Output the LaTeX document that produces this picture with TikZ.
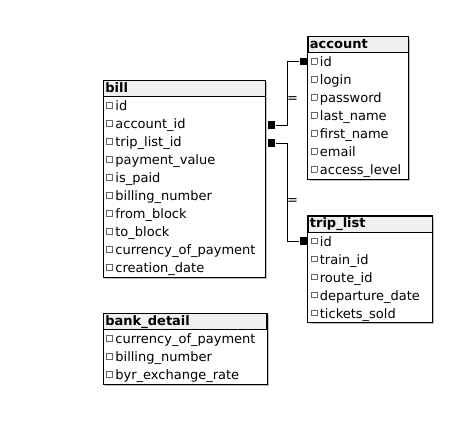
\documentclass[tikz,border=0pt]{standalone}
\usepackage{fontspec}
\setmainfont{DejaVu Sans}
\usetikzlibrary{positioning, fit, backgrounds, shadows}
\newcommand{\chk}{\hspace{1pt}\raisebox{3pt}{\color{gray!80!black}\setlength{\fboxsep}{0pt}\setlength{\fboxrule}{0.6pt}\fbox{\rule{0pt}{5.3pt}\rule{5.3pt}{0pt}}}\hspace{2.5pt}}

\begin{document}
\begin{tikzpicture}[x=1pt, y=-1pt, line width=0.8pt,
    font=\fontsize{13}{15}\selectfont,
    head/.style={draw, fill=gray!12, anchor=north west, align=left, inner xsep=2pt, inner ysep=0pt,
        minimum height=16pt, text height=9pt, text depth=1pt, font=\fontsize{13}{15}\selectfont\bfseries},
    field/.style={anchor=north west, align=left, inner xsep=2pt, inner ysep=0pt,
        minimum height=18pt, text height=11pt, text depth=0pt},
    frame/.style={draw, fill=white, inner sep=0pt,
        drop shadow={shadow xshift=2pt, shadow yshift=-2pt, fill=gray!50, opacity=1}},
    key/.style={fill=black, minimum size=7.5pt, inner sep=0pt},
    card/.style={anchor=west, inner sep=0pt, xshift=-1pt}]
    \useasboundingbox (0,0) rectangle (475,431);

    % bill
    \node[head, text width=157.5pt] (bill) at (103,80) {bill};
    \foreach \f [count=\i] in {id, account\_id, trip\_list\_id, payment\_value, is\_paid,
        billing\_number, from\_block, to\_block, currency\_of\_payment, creation\_date}
        \node[field, text width=157.5pt] (bill-\i) at (103,78+18*\i) {\chk\f};

    % account
    \node[head, text width=96pt] (account) at (307.5,36) {account};
    \foreach \f [count=\i] in {id, login, password, last\_name, first\_name, email, access\_level}
        \node[field, text width=96pt] (account-\i) at (307.5,34+18*\i) {\chk\f};

    % trip_list
    \node[head, text width=120pt] (trip) at (307.5,215.5) {trip\_list};
    \foreach \f [count=\i] in {id, train\_id, route\_id, departure\_date, tickets\_sold}
        \node[field, text width=120pt] (trip-\i) at (307.5,213.5+18*\i) {\chk\f};

    % bank_detail
    \node[head, text width=159pt] (bank) at (103,313) {bank\_detail};
    \foreach \f [count=\i] in {currency\_of\_payment, billing\_number, byr\_exchange\_rate}
        \node[field, text width=159pt] (bank-\i) at (103,311+18*\i) {\chk\f};

    \begin{scope}[on background layer]
        \node[frame, fit=(bill)(bill-10)] (bill-box) {};
        \node[frame, fit=(account)(account-7)] (account-box) {};
        \node[frame, fit=(trip)(trip-5)] (trip-box) {};
        \node[frame, fit=(bank)(bank-3)] (bank-box) {};
    \end{scope}

    % references
    \node[key, right=2pt of bill-2.east, yshift=-1.5pt] (k-bill-acc) {};
    \node[key, right=2pt of bill-3.east, yshift=-1.5pt] (k-bill-trip) {};
    \node[key, left=0pt of account-1.west] (k-acc) {};
    \node[key, left=0pt of trip-1.west] (k-trip) {};

    \draw (k-bill-acc.east) -- ++(12,0) |- node[card, pos=0.2] {=} (k-acc.west);
    \draw (k-bill-trip.east) -- ++(12,0) |- node[card, pos=0.3] {=} (k-trip.west);
\end{tikzpicture}
\end{document}
